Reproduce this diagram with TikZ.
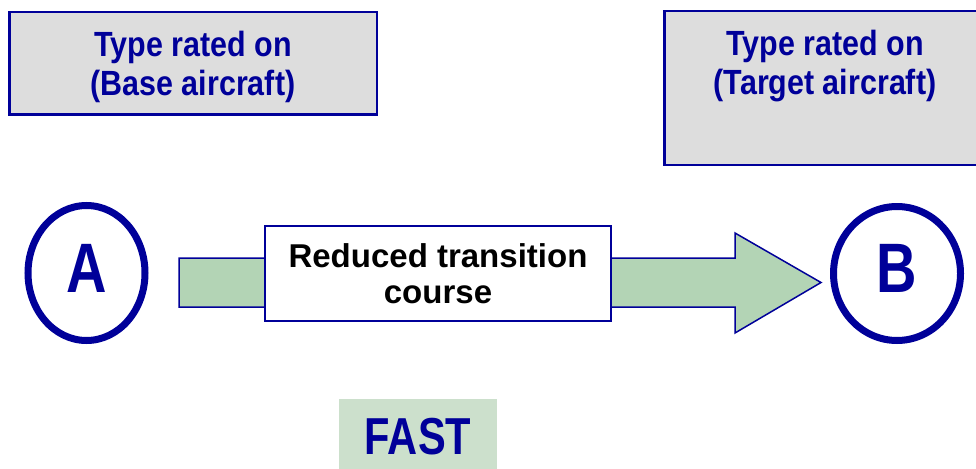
\documentclass[tikz,border=0pt]{standalone}
\usepackage{fontspec}
\setmainfont{Liberation Sans}
\newfontfamily\narrowsans[FakeStretch=0.8]{Liberation Sans}
\newfontfamily\titlesans[FakeStretch=0.87]{Liberation Sans}
\usepackage{tikz}
\usetikzlibrary{shapes.geometric,calc}
\definecolor{navy}{HTML}{000099}
\definecolor{panelgray}{HTML}{DDDDDD}
\definecolor{arrowgreen}{HTML}{B3D4B5}
\definecolor{fastgreen}{HTML}{CCE0CC}

\begin{document}
\begin{tikzpicture}[x=1pt,y=-1pt,
    typebox/.style={rectangle,draw=navy,line width=2.5pt,fill=panelgray},
    typetext/.style={text=navy,align=center,inner sep=0pt,font=\titlesans\bfseries\fontsize{35}{39}\selectfont},
    rating/.style={ellipse,draw=navy,line width=7pt,text=navy,inner sep=0pt,text depth=10pt,
        font=\narrowsans\bfseries\fontsize{70}{70}\selectfont},
    blockarrow/.style={draw=navy,line width=1.5pt,fill=arrowgreen,line join=miter},
    coursebox/.style={rectangle,draw=navy,line width=2pt,fill=white,align=center,
        font=\bfseries\fontsize{33}{36}\selectfont},
    speedtag/.style={rectangle,fill=fastgreen,text=navy,
        font=\narrowsans\bfseries\fontsize{52}{52}\selectfont}]
    \useasboundingbox (0,0) rectangle (976,468);
    % rating boxes
    \node[typebox,minimum width=367.5,minimum height=102.5] (base) at (193,63.5) {};
    \node[typetext] (basetext) at (193,66.5) {Type rated on\\(Base aircraft)};
    \node[typebox,minimum width=321.5,minimum height=153.5] (target) at (825,88) {};
    \node[typetext] (targettext) at (825,66.5) {Type rated on\\(Target aircraft)};
    % start and end
    \node[rating,minimum width=117,minimum height=135] (A) at (86.5,273) {A};
    \node[rating,minimum width=127,minimum height=134] (B) at (897,273.5) {B};
    % transition arrow
    \coordinate (tail) at (179,282.5);
    \coordinate (tip) at (821,282.5);
    \draw[blockarrow] ($(tail)+(0,-24.5)$) -- ($(tip)+(-86,-24.5)$) -- ($(tip)+(-86,-49.5)$)
        -- (tip) -- ($(tip)+(-86,50.5)$) -- ($(tip)+(-86,24.5)$) -- ($(tail)+(0,24.5)$) -- cycle;
    \node[coursebox,minimum width=346,minimum height=95] (course) at (438,273.5)
        {Reduced transition\\course};
    % speed
    \node[speedtag,minimum width=158,minimum height=75] (fast) at (418,436.5) {FAST};
\end{tikzpicture}
\end{document}
